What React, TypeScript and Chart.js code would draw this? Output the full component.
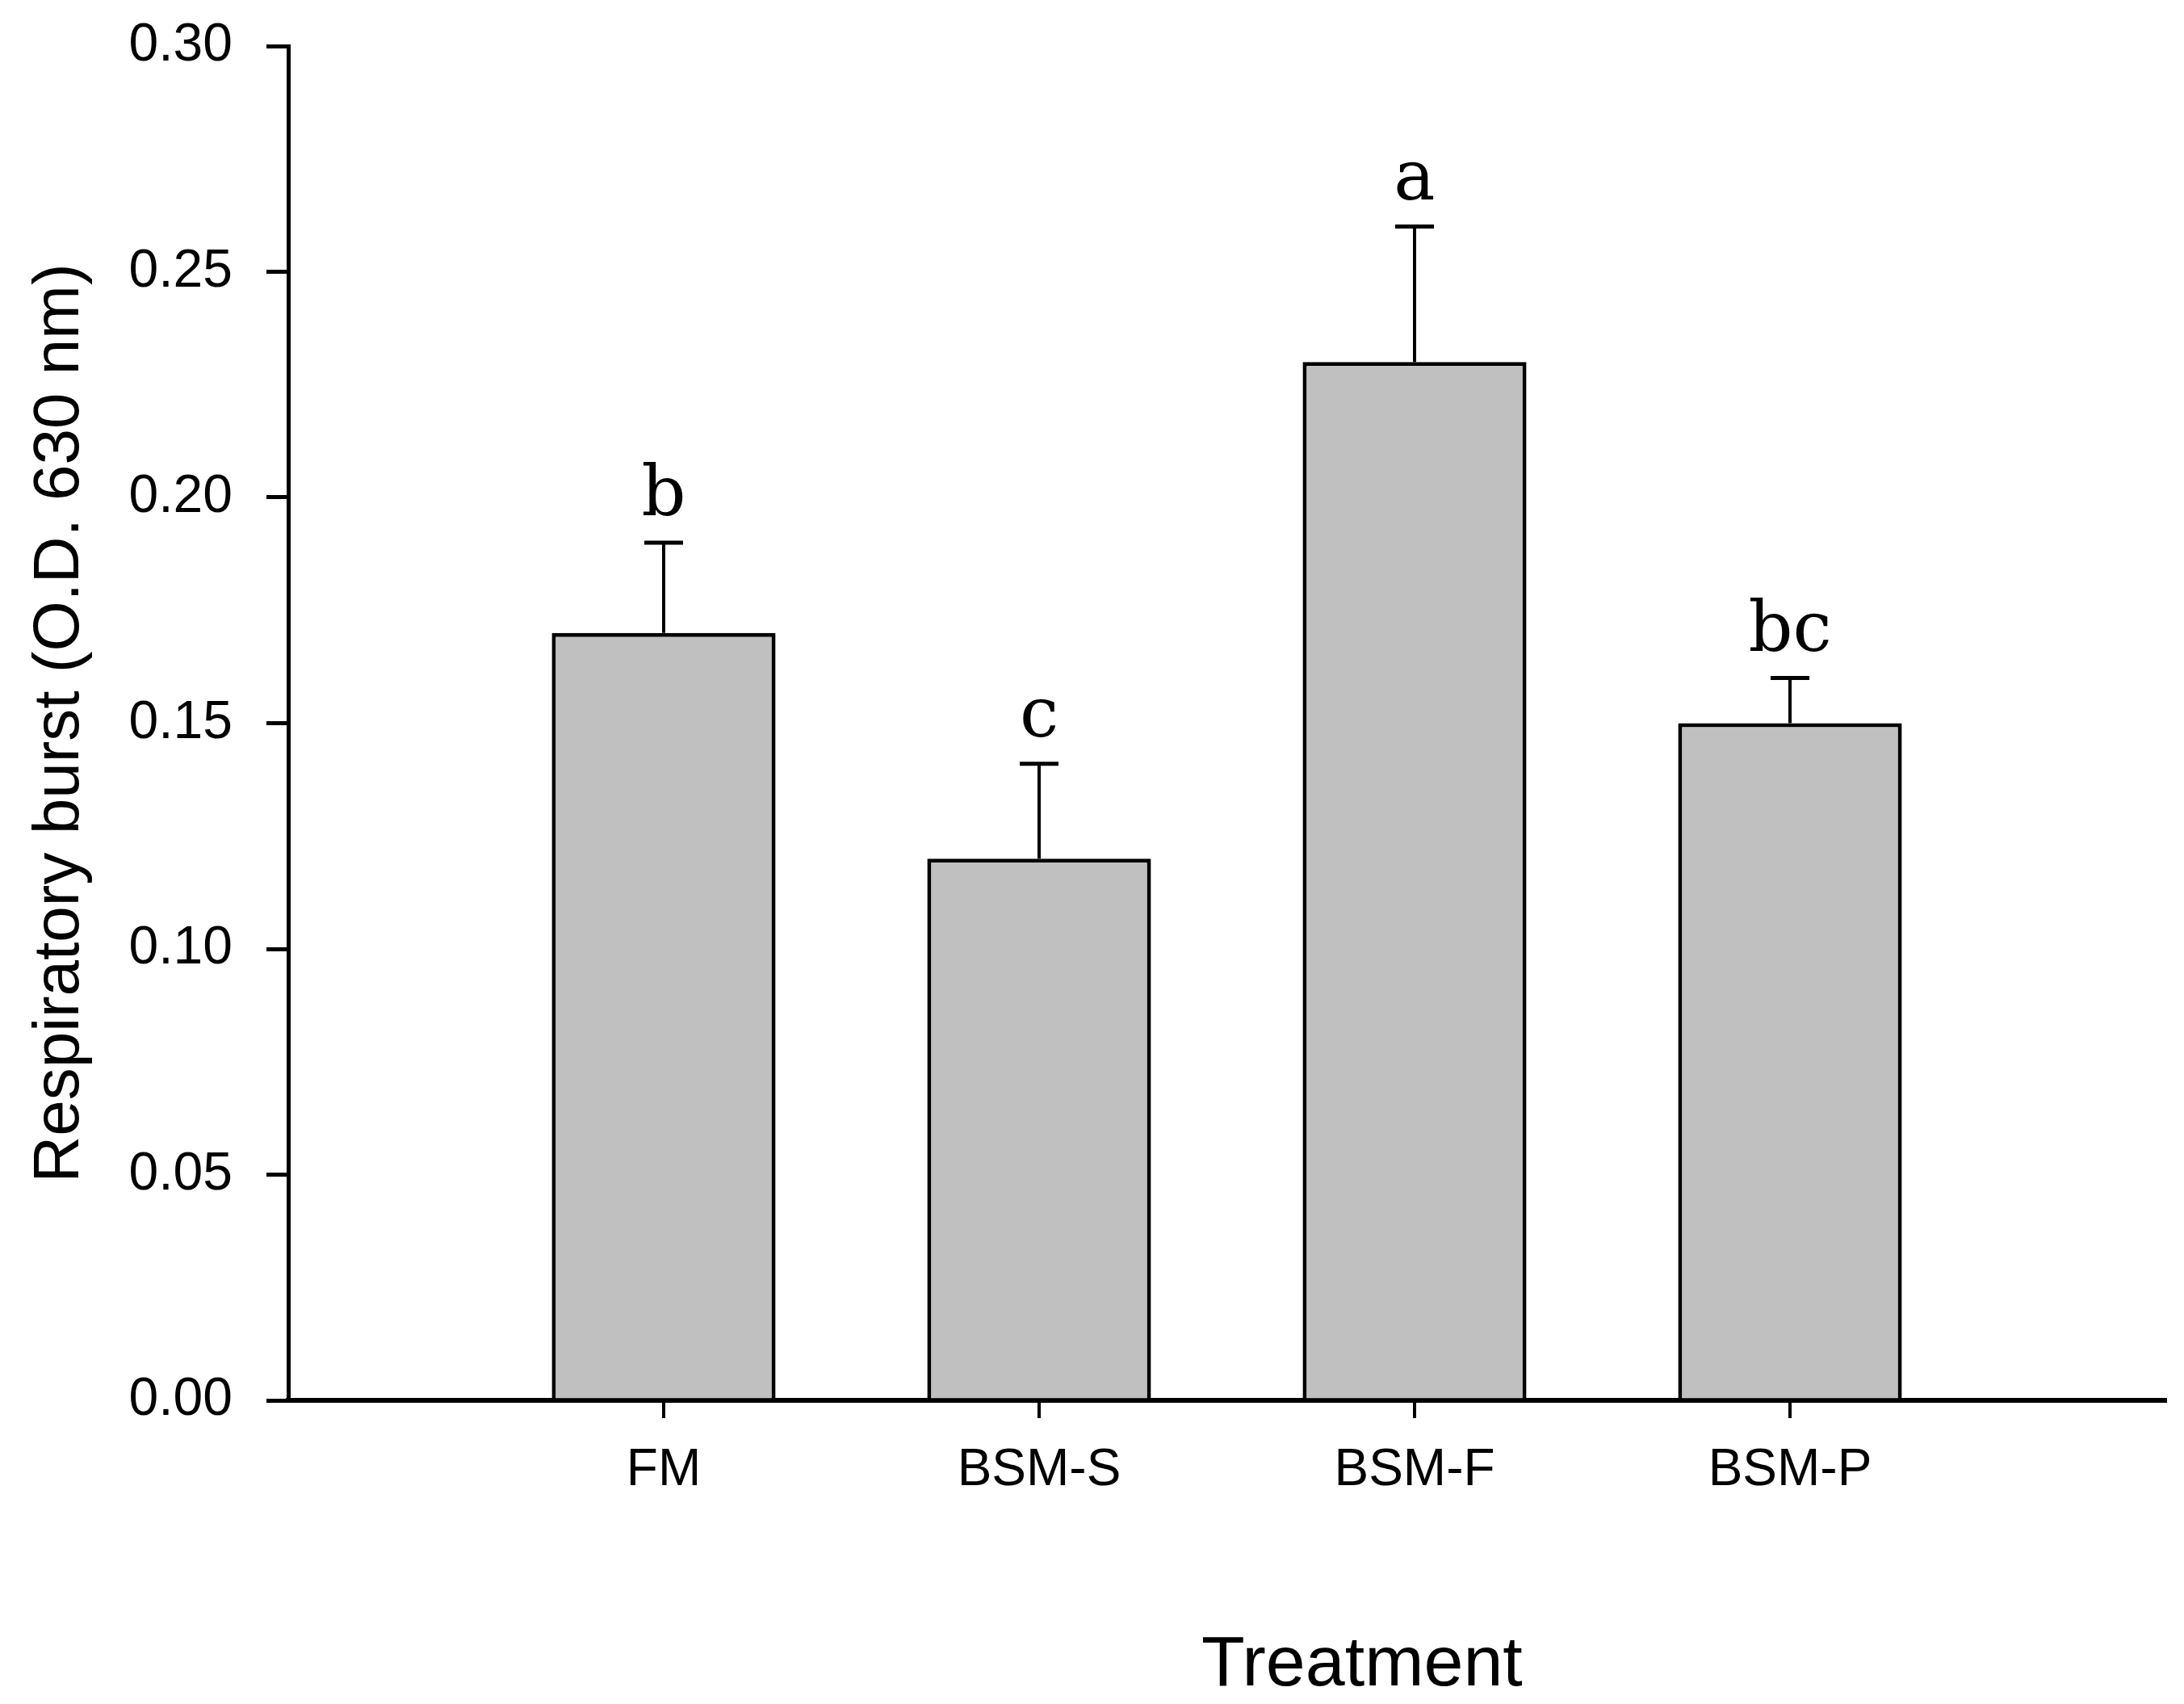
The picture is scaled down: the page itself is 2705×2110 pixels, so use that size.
import React, { useEffect, useRef } from "react";
import { Chart, registerables } from "chart.js";

Chart.register(...registerables);

const categories = ["FM", "BSM-S", "BSM-F", "BSM-P"];
const meanValues = [0.17, 0.12, 0.23, 0.15];
const errorValues = [0.02, 0.021, 0.03, 0.01];
const groupLetters = ["b", "c", "a", "bc"];
const yTickValues = [0, 0.05, 0.1, 0.15, 0.2, 0.25, 0.3];
const yAxisTitle = "Respiratory burst (O.D. 630 nm)";
const xAxisTitle = "Treatment";

const annotatePlugin = {
  id: "annotate",
  afterDatasetsDraw(chart: any) {
    const { ctx, scales } = chart;
    const x = scales.x;
    const y = scales.y;
    ctx.save();
    ctx.strokeStyle = "#000";
    ctx.fillStyle = "#000";
    meanValues.forEach((v, i) => {
      const px = x.getPixelForValue(i + 1);
      const top = y.getPixelForValue(v);
      const cap = y.getPixelForValue(v + errorValues[i]);
      ctx.lineWidth = 4;
      ctx.beginPath();
      ctx.moveTo(px, top);
      ctx.lineTo(px, cap);
      ctx.stroke();
      ctx.lineWidth = 5;
      ctx.beginPath();
      ctx.moveTo(px - 24, cap);
      ctx.lineTo(px + 24, cap);
      ctx.stroke();
      ctx.font = '86px "DejaVu Serif", serif';
      ctx.textAlign = "center";
      ctx.textBaseline = "alphabetic";
      ctx.fillText(groupLetters[i], px, cap - 34);
    });
    ctx.font = '88px "Liberation Sans", Arial, sans-serif';
    ctx.textAlign = "center";
    ctx.textBaseline = "alphabetic";
    ctx.fillText(xAxisTitle, x.getPixelForValue(2.86), chart.chartArea.bottom + 353);
    ctx.restore();
  },
};

export default function App() {
  const canvasRef = useRef<HTMLCanvasElement | null>(null);

  useEffect(() => {
    document.body.style.margin = "0";
    document.body.style.overflow = "hidden";
    const canvas = canvasRef.current;
    if (!canvas) return;
    const chart = new Chart(canvas, {
      type: "bar",
      data: {
        datasets: [
          {
            data: meanValues.map((v, i) => ({ x: i + 1, y: v })),
            backgroundColor: "#c0c0c0",
            borderColor: "#000",
            borderWidth: 5,
            barPercentage: 0.596,
            categoryPercentage: 1,
          },
        ],
      },
      options: {
        animation: false,
        responsive: false,
        devicePixelRatio: 1,
        layout: { padding: { left: 0, right: 23, top: 57, bottom: 0 } },
        plugins: { legend: { display: false }, tooltip: { enabled: false } },
        scales: {
          x: {
            type: "linear",
            min: 0,
            max: 5,
            offset: false,
            afterBuildTicks: (scale: any) => {
              scale.ticks = categories.map((_, i) => ({ value: i + 1 }));
            },
            afterFit: (scale: any) => {
              scale.height = 376;
              scale.paddingLeft = 0;
              scale.paddingRight = 0;
            },
            border: { display: true, color: "#000", width: 6 },
            grid: {
              display: true,
              offset: false,
              drawOnChartArea: false,
              drawTicks: true,
              tickLength: 22,
              color: "#000",
              lineWidth: 4,
            },
            ticks: {
              color: "#000",
              padding: 27,
              font: { family: '"Liberation Sans", Arial, sans-serif', size: 64 },
              callback: (v: any) => categories[Math.round(Number(v)) - 1] ?? "",
            },
          },
          y: {
            type: "linear",
            min: 0,
            max: 0.3,
            afterBuildTicks: (scale: any) => {
              scale.ticks = yTickValues.map((v) => ({ value: v }));
            },
            afterFit: (scale: any) => {
              scale.width = 357;
              scale.paddingTop = 0;
              scale.paddingBottom = 0;
            },
            border: { display: true, color: "#000", width: 5 },
            grid: {
              display: true,
              drawOnChartArea: false,
              drawTicks: true,
              tickLength: 27,
              color: "#000",
              lineWidth: 5,
            },
            ticks: {
              color: "#000",
              padding: 42,
              font: { family: '"Liberation Sans Narrow", "Liberation Sans", Arial, sans-serif', size: 66 },
              callback: (v: any) => Number(v).toFixed(2),
            },
            title: {
              display: true,
              text: yAxisTitle,
              color: "#000",
              font: { family: '"Liberation Sans", Arial, sans-serif', size: 80 },
              padding: { top: 27, bottom: 0 },
            },
          },
        },
      },
      plugins: [annotatePlugin],
    });
    return () => chart.destroy();
  }, []);

  return (
    <div style={{ width: 2705, height: 2110, background: "#fff" }}>
      <canvas ref={canvasRef} width={2705} height={2110} style={{ width: 2705, height: 2110, display: "block" }} />
    </div>
  );
}
